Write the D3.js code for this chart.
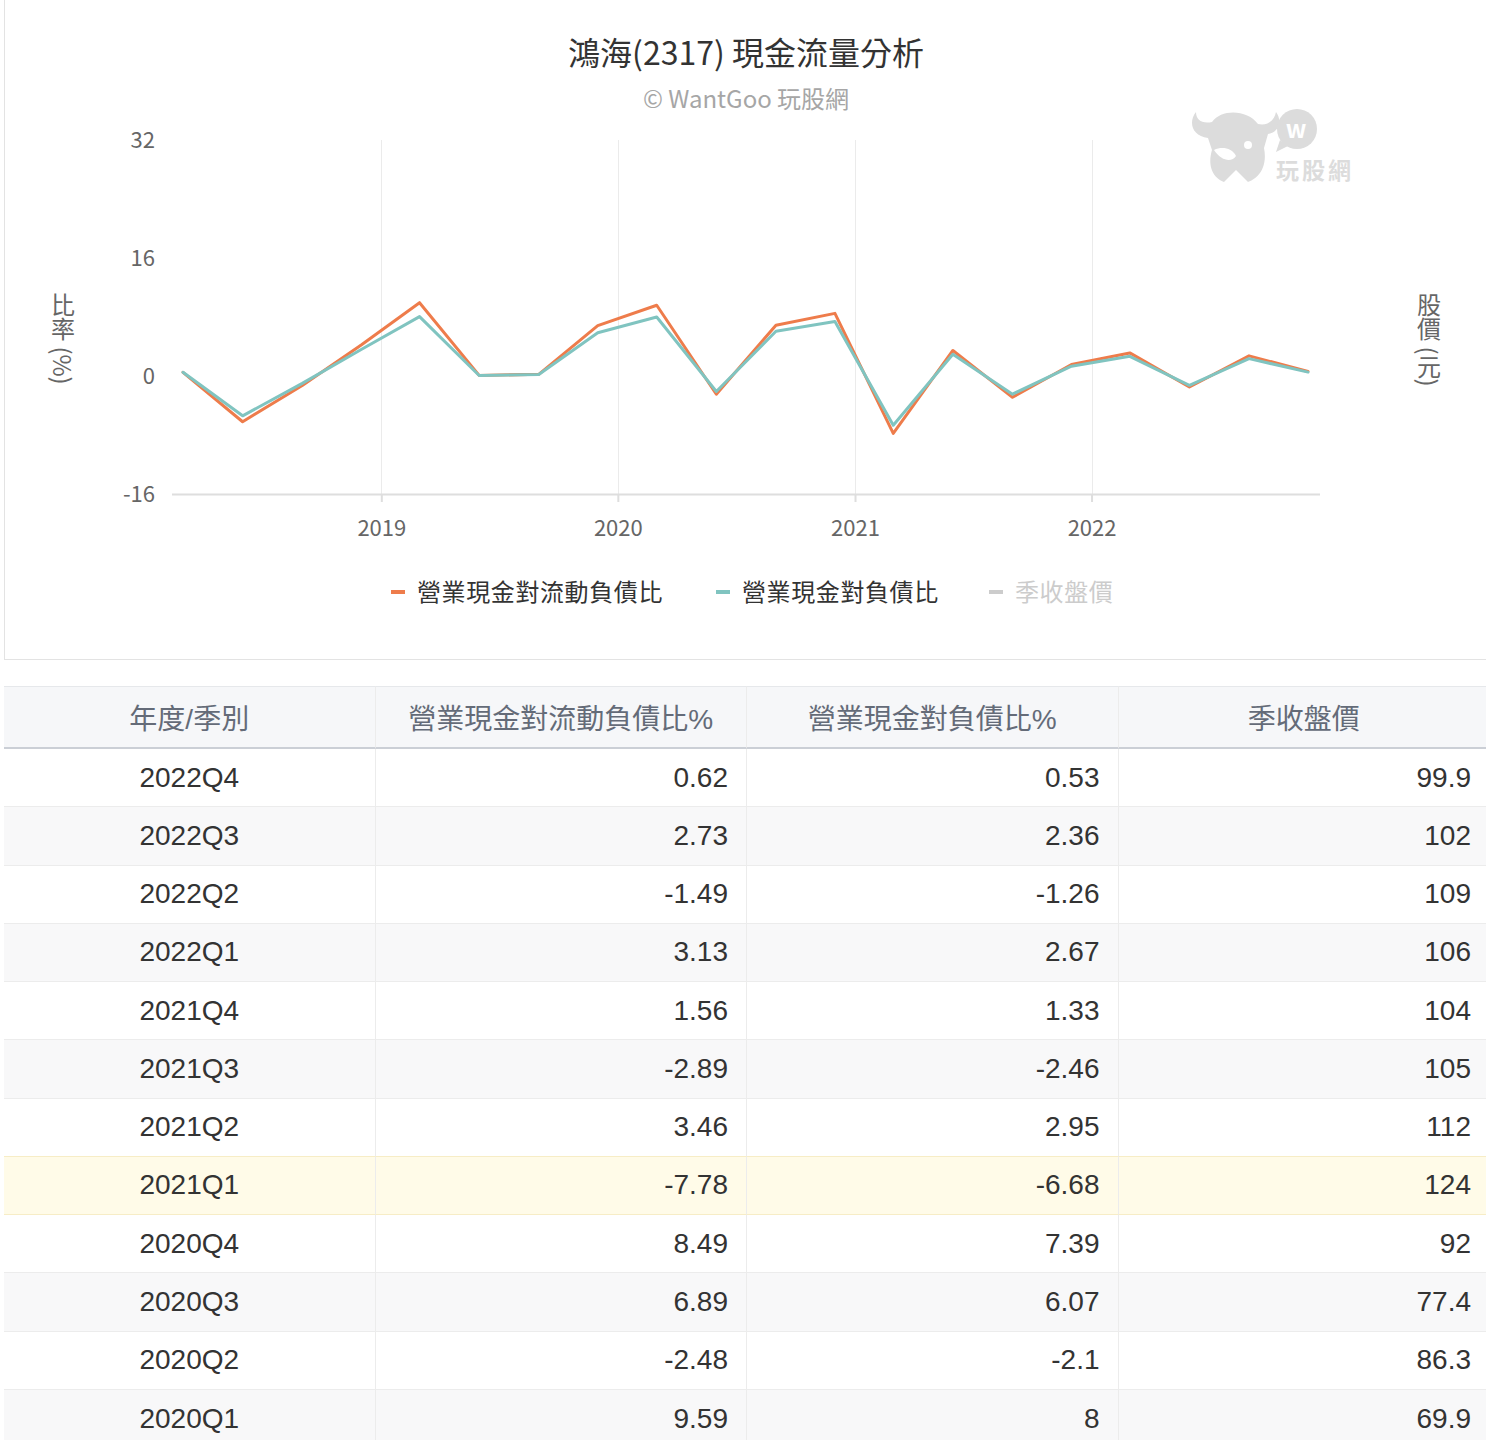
<!DOCTYPE html>
<html lang="zh-Hant">
  <head>
    <meta charset="utf-8">
    <title>鴻海(2317) 現金流量分析</title>
    <style>
      body { margin: 0; background: #fff; overflow: hidden; width: 1486px; height: 1440px; position: relative; }
      #viz { position: absolute; left: 0; top: 0; }
      #tbl { position: absolute; left: 4px; top: 686px; width: 1486px; }
      table { border-collapse: separate; border-spacing: 0; table-layout: fixed; width: 1486px;
              font-family: "Liberation Sans", "Noto Sans CJK TC", sans-serif; font-size: 28px; }
      th, td { box-sizing: border-box; padding: 0 18px; border-right: 1px solid #ececec; }
      th { height: 63px; background: #f6f7f9; color: #646b78; font-weight: normal; text-align: center;
           border-top: 1px solid #e6e8eb; border-bottom: 2px solid #cbcfd6; }
      td { height: 58.27px; color: #333; text-align: right; border-bottom: 1px solid #ececec; }
      td.q { text-align: center; }
      tr.odd td { background: #f8f8f9; }
      tr.hl td { background: #fffbe8; border-bottom-color: #f7edc6; }
      tr.pre td { border-bottom-color: #f7edc6; }
    </style>
    <script src="https://cdn.jsdelivr.net/npm/d3@7"></script>
  </head>
  <body>

    <div id="viz"></div>
    <div id="tbl"></div>

    <script>

    // quarters shown in the chart (2018Q1 .. 2022Q4)
    var quarters = ['2018Q1','2018Q2','2018Q3','2018Q4','2019Q1','2019Q2','2019Q3','2019Q4',
                    '2020Q1','2020Q2','2020Q3','2020Q4','2021Q1','2021Q2','2021Q3','2021Q4',
                    '2022Q1','2022Q2','2022Q3','2022Q4'];
    // 營業現金對流動負債比 (%)
    var cashToCurrent = [0.5, -6.2, -1.3, 4.2, 9.94, 0.08, 0.23, 6.82,
                         9.59, -2.48, 6.89, 8.49, -7.78, 3.46, -2.89, 1.56,
                         3.13, -1.49, 2.73, 0.62];
    // 營業現金對負債比 (%)
    var cashToTotal = [0.5, -5.4, -1.0, 3.6, 8.05, 0.07, 0.2, 5.87,
                       8, -2.1, 6.07, 7.39, -6.68, 2.95, -2.46, 1.33,
                       2.67, -1.26, 2.36, 0.53];
    // 季收盤價 (hidden in chart, only in table)
    var closePrice = [null, null, null, null, null, null, null, null,
                      69.9, 86.3, 77.4, 92, 124, 112, 105, 104,
                      106, 109, 102, 99.9];
    var yTicks = [-16, 0, 16, 32];
    var tableCols = ['年度/季別', '營業現金對流動負債比%', '營業現金對負債比%', '季收盤價'];
    var tableRows = 12;
    var highlightQ = '2021Q1';

    var orange = '#ee7c4b',
        teal = '#80c4c0';

    var W = 1486, H = 660;
    var svg = d3.select('#viz').append('svg')
        .attr('width', W)
        .attr('height', H)
        .style('font-family', '"Noto Sans CJK TC", "Noto Sans", sans-serif');

    // container border
    svg.append('rect')
        .attr('x', 4.5).attr('y', -2)
        .attr('width', 1490).attr('height', 661.5)
        .attr('fill', 'none').attr('stroke', '#e3e3e3');

    // dates: last month of each quarter
    var dates = quarters.map(function(q) {
      var y = +q.slice(0, 4), n = +q.slice(5);
      return new Date(Date.UTC(y, n * 3 - 1, 1));
    });

    var x = d3.scaleUtc().domain(d3.extent(dates)).range([183, 1308]);
    var y = d3.scaleLinear().domain([-16, 32]).range([494, 140]);
    var plotL = 172, plotR = 1320;

    // title
    svg.append('text').attr('x', 746).attr('y', 65).attr('text-anchor', 'middle')
        .attr('font-size', 32).attr('fill', '#333').text('鴻海(2317) 現金流量分析');
    svg.append('text').attr('x', 746).attr('y', 108).attr('text-anchor', 'middle')
        .attr('font-size', 24).attr('fill', '#a6a6a6').text('© WantGoo 玩股網');

    // watermark logo
    var logo = svg.append('g').attr('fill', '#dcdcdc');
    logo.append('path')
        .attr('d', 'M1196,112 C1188,122 1192,136 1208,138 L1212,150 C1206,170 1216,184 1236,184 C1258,184 1268,168 1264,148 L1268,134 C1280,132 1282,120 1276,112 C1274,122 1266,126 1258,124 C1248,110 1222,108 1212,122 C1202,124 1196,120 1196,112 Z');
    logo.append('path').attr('fill', '#fff')
        .attr('d', 'M1214,150 C1222,146 1232,148 1236,156 C1232,162 1222,162 1214,150 Z');
    logo.append('circle').attr('cx', 1248).attr('cy', 145).attr('r', 4).attr('fill', '#fff');
    logo.append('path').attr('fill', '#fff')
        .attr('d', 'M1222,184 L1236,170 L1250,184 Z');
    logo.append('circle').attr('cx', 1297).attr('cy', 129).attr('r', 20);
    logo.append('path').attr('d', 'M1280,140 L1276,152 L1288,146 Z');
    logo.append('text').attr('x', 1296).attr('y', 138).attr('text-anchor', 'middle')
        .attr('font-size', 24).attr('font-weight', 'bold').attr('fill', '#fff').text('w');
    logo.append('text').attr('x', 1276).attr('y', 179)
        .attr('font-size', 23).attr('font-weight', 'bold').attr('letter-spacing', 3)
        .text('玩股網');

    // vertical grid at year ticks
    var yearTicks = x.ticks(d3.utcYear.every(1));
    svg.append('g').selectAll('line')
        .data(yearTicks).enter().append('line')
          .attr('x1', function(d) { return Math.round(x(d)) + 0.5; })
          .attr('x2', function(d) { return Math.round(x(d)) + 0.5; })
          .attr('y1', y(32)).attr('y2', y(-16))
          .attr('stroke', '#ebebeb');

    // bottom axis line + ticks
    svg.append('line')
        .attr('x1', plotL).attr('x2', plotR)
        .attr('y1', y(-16) + 0.5).attr('y2', y(-16) + 0.5)
        .attr('stroke', '#dedede').attr('stroke-width', 2);
    var xAxis = svg.append('g').attr('transform', 'translate(0,' + (y(-16) + 1) + ')')
        .call(d3.axisBottom(x).tickValues(yearTicks).tickFormat(d3.utcFormat('%Y')).tickSize(7).tickPadding(18));
    xAxis.select('.domain').remove();
    xAxis.selectAll('line').attr('stroke', '#dedede').attr('stroke-width', 2);
    xAxis.selectAll('text').attr('font-size', 22).attr('fill', '#666')
        .attr('font-family', '"Noto Sans CJK TC", sans-serif');

    // y axis labels
    var yAxis = svg.append('g').attr('transform', 'translate(155,0)')
        .call(d3.axisLeft(y).tickValues(yTicks).tickFormat(function(d) { return String(d); })
          .tickSize(0).tickPadding(0));
    yAxis.select('.domain').remove();
    yAxis.selectAll('text').attr('font-size', 22).attr('fill', '#666')
        .attr('font-family', '"Noto Sans CJK TC", sans-serif');

    // axis titles, vertical writing
    svg.append('text').attr('x', 63).attr('y', 293)
        .style('writing-mode', 'vertical-rl')
        .attr('font-size', 24).attr('fill', '#666').text('比率 (%)');
    svg.append('text').attr('x', 1429).attr('y', 293)
        .style('writing-mode', 'vertical-rl')
        .attr('font-size', 24).attr('fill', '#666').text('股價 (元)');

    // series lines
    var line = d3.line()
        .x(function(d, i) { return x(dates[i]); })
        .y(function(d) { return y(d); });

    [[cashToCurrent, orange], [cashToTotal, teal]].forEach(function(s) {
      svg.append('path')
          .datum(s[0])
          .attr('d', line)
          .attr('fill', 'none')
          .attr('stroke', s[1])
          .attr('stroke-width', 3)
          .attr('stroke-linejoin', 'round')
          .attr('stroke-linecap', 'round');
    });

    // legend
    var legend = [
      {name: '營業現金對流動負債比', color: orange, text: '#333', x: 391},
      {name: '營業現金對負債比', color: teal, text: '#333', x: 716},
      {name: '季收盤價', color: '#cccccc', text: '#cccccc', x: 989}
    ];
    var lg = svg.append('g').selectAll('g').data(legend).enter().append('g')
        .attr('transform', function(d) { return 'translate(' + d.x + ',592)'; });
    lg.append('line').attr('x1', 0).attr('x2', 14).attr('y1', 0).attr('y2', 0)
        .attr('stroke', function(d) { return d.color; }).attr('stroke-width', 4);
    lg.append('text').attr('x', 26).attr('dy', '0.36em')
        .attr('font-size', 24).attr('letter-spacing', 0.6)
        .attr('fill', function(d) { return d.text; })
        .text(function(d) { return d.name; });

    // table (latest quarter first)
    var idx = d3.range(quarters.length - 1, quarters.length - 1 - tableRows, -1);
    var table = d3.select('#tbl').append('table');
    table.append('thead').append('tr').selectAll('th')
        .data(tableCols).enter().append('th').text(function(d) { return d; });
    var rows = table.append('tbody').selectAll('tr')
        .data(idx).enter().append('tr')
          .attr('class', function(d, i) {
            if (quarters[d] === highlightQ) return 'hl';
            if (i + 1 < idx.length && quarters[idx[i + 1]] === highlightQ) return 'pre';
            return i % 2 ? 'odd' : '';
          });
    rows.selectAll('td')
        .data(function(d) { return [quarters[d], cashToCurrent[d], cashToTotal[d], closePrice[d]]; })
        .enter().append('td')
          .attr('class', function(d, i) { return i === 0 ? 'q' : null; })
          .text(function(d) { return String(d); });

    </script>
  </body>
</html>
